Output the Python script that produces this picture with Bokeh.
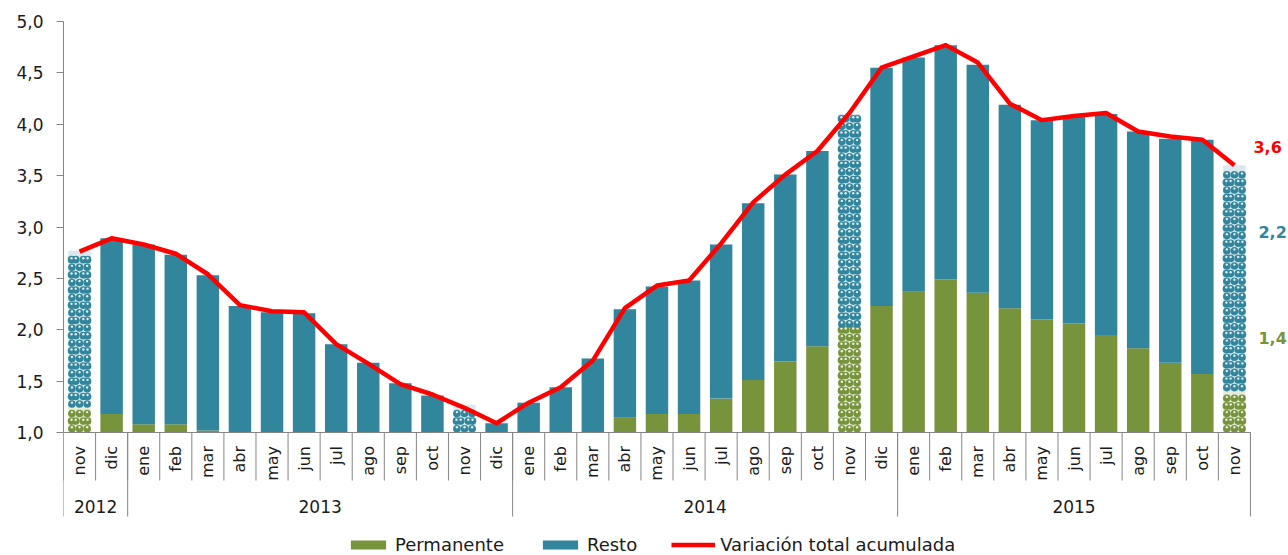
import math
from bokeh.plotting import figure
from bokeh.models import (ColumnDataSource, Range1d, FixedTicker, CustomJSTickFormatter,
                          Label, Legend, LegendItem)
from bokeh.embed import file_html
from bokeh.resources import INLINE
from bokeh.core.properties import value

# ---------------- data ----------------
year_names = ["2012", "2013", "2014", "2015"]
year_months = [
    ["nov", "dic"],
    ["ene", "feb", "mar", "abr", "may", "jun", "jul", "ago", "sep", "oct", "nov", "dic"],
    ["ene", "feb", "mar", "abr", "may", "jun", "jul", "ago", "sep", "oct", "nov", "dic"],
    ["ene", "feb", "mar", "abr", "may", "jun", "jul", "ago", "sep", "oct", "nov"],
]

permanente = [1.24, 1.18,
              1.08, 1.08, 1.02, 0.95, 0.93, 0.92, 0.88, 0.85, 0.82, 0.80, 0.80, 0.78,
              0.85, 0.90, 0.97, 1.15, 1.18, 1.18, 1.33, 1.51, 1.69, 1.84, 2.02, 2.23,
              2.37, 2.49, 2.36, 2.21, 2.10, 2.06, 1.95, 1.82, 1.68, 1.57, 1.40]
resto = [1.53, 1.71,
         1.75, 1.65, 1.51, 1.28, 1.24, 1.24, 0.98, 0.83, 0.66, 0.56, 0.47, 0.31,
         0.44, 0.54, 0.75, 1.05, 1.24, 1.30, 1.50, 1.72, 1.82, 1.90, 2.08, 2.32,
         2.28, 2.28, 2.22, 1.98, 1.94, 2.01, 2.15, 2.11, 2.18, 2.28, 2.20]
variacion = [2.76, 2.89,
             2.83, 2.74, 2.54, 2.24, 2.18, 2.17, 1.86, 1.67, 1.47, 1.37, 1.24, 1.09,
             1.29, 1.44, 1.70, 2.21, 2.43, 2.48, 2.84, 3.24, 3.51, 3.74, 4.11, 4.55,
             4.66, 4.77, 4.60, 4.20, 4.04, 4.08, 4.11, 3.93, 3.88, 3.85, 3.60]
y_ticks = [1.0, 1.5, 2.0, 2.5, 3.0, 3.5, 4.0, 4.5, 5.0]

# ---------------- styles / geometry ----------------
GREEN = "#77933C"
TEAL = "#31859C"
RED = "#FF0000"
GREY = "#868686"
TXT = "#1a1a1a"
FONT = "DejaVu Sans"

W, H = 1288, 555
LEFT, TOP = 63, 21
CAT_PX = 32.08          # pixels per category
Y_PX = 102.75           # pixels per unit on the y axis
Y_MIN, Y_MAX = y_ticks[0], y_ticks[-1]

months = [m for ms in year_months for m in ms]
years = [y for y, ms in zip(year_names, year_months) for _ in ms]
n = len(months)
idx = list(range(n))
totals = [p_ + r_ for p_, r_ in zip(permanente, resto)]
hatched = [m == "nov" for m in months]

frame_w = W - LEFT
frame_h = H - TOP
x_end = -0.5 + frame_w / CAT_PX
y_start = Y_MAX - frame_h / Y_PX

def below(px):
    """data y for a point px pixels below the axis base line"""
    return Y_MIN - px / Y_PX

# truncated axis: bars start at the axis base
perm_top = [max(v, Y_MIN) for v in permanente]
tot_top = [max(v, Y_MIN) for v in totals]

def sel(flag):
    ii = [i for i in idx if hatched[i] == flag]
    return ColumnDataSource(dict(
        x=ii,
        base=[Y_MIN] * len(ii),
        perm=[perm_top[i] for i in ii],
        total=[tot_top[i] for i in ii],
    ))

src_plain = sel(False)
src_hatch = sel(True)

p = figure(width=W, height=H, x_range=Range1d(-0.5, x_end), y_range=Range1d(y_start, Y_MAX),
           x_axis_location=None, toolbar_location=None, output_backend="svg",
           min_border_left=LEFT, min_border_right=0, min_border_top=TOP, min_border_bottom=0)
p.outline_line_color = None
p.grid.grid_line_color = None
p.background_fill_color = "white"

BW = 0.7
r_perm = p.vbar(x="x", bottom="base", top="perm", width=BW, source=src_plain,
                fill_color=GREEN, line_color=None)
r_resto = p.vbar(x="x", bottom="perm", top="total", width=BW, source=src_plain,
                 fill_color=TEAL, line_color=None)

# patterned bars (the "nov" months): light tint + a staggered grid of small discs
p.vbar(x="x", bottom="base", top="perm", width=BW, source=src_hatch,
       fill_color=GREEN, fill_alpha=0.18, line_color=None)
p.vbar(x="x", bottom="perm", top="total", width=BW, source=src_hatch,
       fill_color=TEAL, fill_alpha=0.18, line_color=None)

STEP = 7.6
half_px = BW * CAT_PX / 2
dots = {GREEN: ([], []), TEAL: ([], [])}
for i in idx:
    if not hatched[i]:
        continue
    for lo, hi, col in [(Y_MIN, perm_top[i], GREEN), (perm_top[i], tot_top[i], TEAL)]:
        seg_px = (hi - lo) * Y_PX
        row = 0
        yy = 3.8
        while yy <= seg_px - 2.0:
            if row % 2 == 0:
                offs = [-STEP, 0.0, STEP]
            else:
                offs = [-half_px + 3.2, -STEP / 2, STEP / 2, half_px - 3.2]
            for o in offs:
                dots[col][0].append(i + o / CAT_PX)
                dots[col][1].append(lo + yy / Y_PX)
            yy += STEP
            row += 1

for col, (xs, ys) in dots.items():
    p.scatter(xs, ys, marker="circle", size=7.6, fill_color=col, line_color=None)
    p.scatter(xs, [y + 1.4 / Y_PX for y in ys], marker="circle", size=2.4,
              fill_color="white", line_color=None, fill_alpha=0.85)

r_line = p.line(idx, variacion, line_color=RED, line_width=4.5, line_join="round")

# y axis
ax = p.yaxis[0]
ax.bounds = (Y_MIN, Y_MAX)
ax.ticker = FixedTicker(ticks=y_ticks)
ax.formatter = CustomJSTickFormatter(code="return tick.toFixed(1).replace('.', ',');")
ax.axis_line_color = GREY
ax.major_tick_line_color = GREY
ax.major_tick_out = 7
ax.major_tick_in = 0
ax.minor_tick_line_color = None
ax.major_label_text_font = FONT
ax.major_label_text_font_size = "17px"
ax.major_label_text_color = TXT
ax.major_label_standoff = 13

# x axis line, month separators, year separators
p.segment(x0=[-0.5], y0=[Y_MIN], x1=[n - 0.5], y1=[Y_MIN], line_color=GREY, line_width=1)
bounds = [i - 0.5 for i in range(n + 1)]
p.segment(x0=bounds, y0=[Y_MIN] * len(bounds), x1=bounds, y1=[below(48)] * len(bounds),
          line_color=GREY, line_width=1)
starts = [i for i in idx if i == 0 or years[i] != years[i - 1]] + [n]
ybounds = [s - 0.5 for s in starts]
p.segment(x0=ybounds, y0=[Y_MIN] * len(ybounds), x1=ybounds, y1=[below(84)] * len(ybounds),
          line_color=GREY, line_width=1)

# month labels and year labels
p.text(x=idx, y=[below(13.5)] * n, text=months, angle=math.pi / 2,
       text_align="right", text_baseline="middle",
       text_font=value(FONT), text_font_size="16px", text_color=TXT)
ycent = [(starts[k] + starts[k + 1] - 1) / 2 for k in range(len(year_names))]
p.text(x=ycent, y=[below(74)] * len(ycent), text=year_names,
       text_align="center", text_baseline="middle",
       text_font=value(FONT), text_font_size="17px", text_color=TXT)

# end-of-series labels
def fmt(v):
    return f"{v:.1f}".replace(".", ",")

last = n - 1
for txt, col, xo, yo in [(fmt(variacion[last]), RED, 3, 18),
                         (fmt(resto[last]), TEAL, 8, -67),
                         (fmt(permanente[last]), GREEN, 8, -173)]:
    p.add_layout(Label(x=last + 0.5, y=variacion[last], x_offset=xo, y_offset=yo,
                       text=txt, text_color=col, text_font=FONT,
                       text_font_size="16px", text_font_style="bold",
                       text_align="left", text_baseline="middle"))

legend = Legend(items=[LegendItem(label="Permanente", renderers=[r_perm]),
                       LegendItem(label="Resto", renderers=[r_resto]),
                       LegendItem(label="Variación total acumulada", renderers=[r_line])],
                orientation="horizontal", location=(283, 0),
                glyph_width=44, glyph_height=11, label_height=20,
                label_standoff=5, spacing=34, padding=0, margin=0,
                border_line_color=None, background_fill_alpha=0,
                label_text_font=FONT, label_text_font_size="18px",
                label_text_color=TXT)
p.add_layout(legend)

open("out.html", "w").write(file_html(p, INLINE))
